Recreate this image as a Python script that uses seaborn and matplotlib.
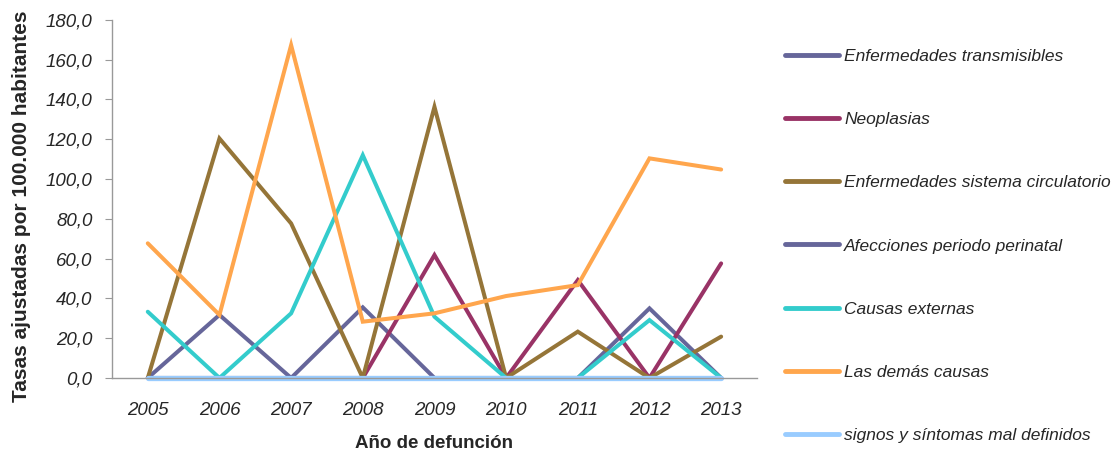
import pandas as pd
import numpy as np
import matplotlib.pyplot as plt
import matplotlib.ticker as mticker
import seaborn as sns

sns.set_style("white")
plt.rcParams['font.family'] = ['Liberation Sans', 'DejaVu Sans']

years = ['2005', '2006', '2007', '2008', '2009', '2010', '2011', '2012', '2013']

transmisibles = [0, 31.7, 0, 35.5, 0, 0, 0, 35.0, 0]
neoplasias = [0, 0, 0, 0, 61.8, 0, 49.2, 0, 57.6]
circulatorio = [0, 120.4, 77.7, 0, 136.3, 0, 23.3, 0, 20.8]
perinatal = [0, 0, 0, 0, 0, 0, 0, 0, 0]
externas = [33.3, 0, 32.5, 112.0, 30.8, 0, 0, 29.1, 0]
demas = [67.7, 31.7, 167.3, 28.3, 32.5, 41.2, 46.7, 110.4, 104.8]
signos = [0, 0, 0, 0, 0, 0, 0, 0, 0]

series_names = ['Enfermedades transmisibles', 'Neoplasias', 'Enfermedades sistema circulatorio',
                'Afecciones periodo perinatal', 'Causas externas', 'Las demás causas',
                'signos y síntomas mal definidos']
series_values = [transmisibles, neoplasias, circulatorio, perinatal, externas, demas, signos]
colors = ['#66669A', '#993366', '#957538', '#66669A', '#33CCCC', '#FFA64D', '#99CCFF']

# long format for seaborn
rows = []
for name, vals in zip(series_names, series_values):
    for i, v in enumerate(vals):
        rows.append({'pos': i, 'Año': years[i], 'Causa': name, 'Tasa': v})
df = pd.DataFrame(rows)

fig = plt.figure(figsize=(11.15, 4.53), dpi=100)
ax = fig.add_axes([0.1004, 0.1656, 0.5785, 0.7904])

sns.lineplot(data=df, x='pos', y='Tasa', hue='Causa', hue_order=series_names,
             palette=colors, linewidth=2.9, ax=ax, legend=False, sort=False)
for ln in ax.lines:
    ln.set_solid_capstyle('round')
    ln.set_solid_joinstyle('miter')
# the last series (all zeros) sits on the axis and looks a bit thicker
ax.lines[-1].set_linewidth(3.8)
ax.lines[-1].set_clip_on(False)

ax.set_xlim(-0.5, len(years) - 0.5)
ax.set_ylim(0, 180)
ax.set_yticks(np.arange(0, 181, 20))
ax.yaxis.set_major_formatter(mticker.FuncFormatter(lambda v, p: f'{v:.1f}'.replace('.', ',')))
ax.set_xticks(range(len(years)))
ax.set_xticklabels(years, fontstyle='italic', fontsize=13.5)
ax.set_xticks(np.arange(-0.5, len(years), 1), minor=True)
ax.tick_params(axis='x', which='major', length=0, pad=17)
ax.tick_params(axis='x', which='minor', length=5, color='#999999', direction='out')
ax.tick_params(axis='y', length=5, color='#999999', direction='out', labelsize=13.5, left=True, pad=9)
for lbl in ax.get_yticklabels():
    lbl.set_fontstyle('italic')

for s in ['top', 'right']:
    ax.spines[s].set_visible(False)
for s in ['left', 'bottom']:
    ax.spines[s].set_color('#999999')
    ax.spines[s].set_linewidth(1)

ax.set_xlabel('Año de defunción', fontsize=13.5, fontweight='bold', labelpad=12)
ax.set_ylabel('Tasas ajustadas por 100.000 habitantes', fontsize=15, fontweight='bold')
ax.yaxis.set_label_coords(-0.125, 0.48)

handles = [plt.Line2D([], [], color=c, linewidth=3.5, solid_capstyle='round') for c in colors]
leg = fig.legend(handles, series_names, loc='upper left', bbox_to_anchor=(0.690, 0.927),
                 frameon=False, handlelength=3.1, handletextpad=0.3, labelspacing=2.77,
                 prop={'size': 12.5, 'style': 'italic'})

fig.savefig('out.png', dpi=100)
